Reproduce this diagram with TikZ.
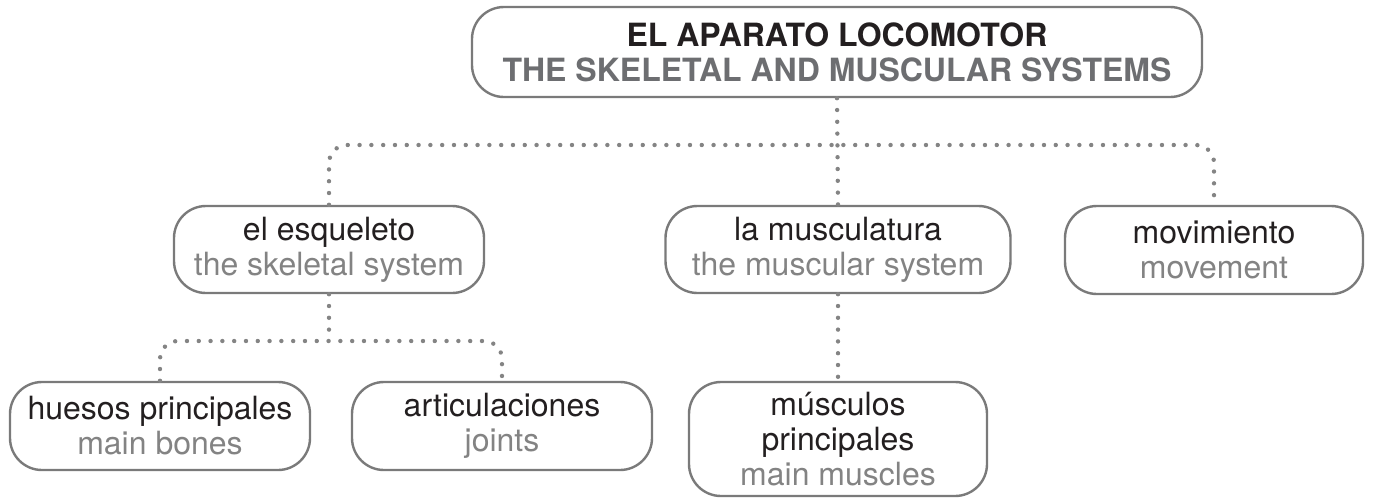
\documentclass[tikz,border=0pt]{standalone}
\usepackage{fontspec}
\setmainfont{TeX Gyre Heros}
\definecolor{boxline}{HTML}{7A7A7A}
\definecolor{dotcol}{HTML}{848484}
\definecolor{maintxt}{HTML}{231F20}
\definecolor{subtxt}{HTML}{838383}
\definecolor{titlesub}{HTML}{6D6E71}
\begin{document}
\begin{tikzpicture}[x=1pt,y=1pt,
  cbox/.style={draw=boxline, line width=2.4pt, rounded corners=32pt, align=center,
    inner sep=0pt, font=\fontsize{32}{35}\selectfont},
  dotline/.style={draw=dotcol, line width=4.4pt, line cap=round,
    dash pattern=on 0pt off 11.8pt, rounded corners=18pt}]
\useasboundingbox (0,0) rectangle (1375,-499);
\node[cbox, minimum width=730pt, minimum height=90pt] (top) at (837,-52)
  {\textbf{\textcolor{maintxt}{EL APARATO LOCOMOTOR}}\\\textbf{\textcolor{titlesub}{THE SKELETAL AND MUSCULAR SYSTEMS}}};
\node[cbox, minimum width=310pt, minimum height=87pt] (esq) at (329,-249.5)
  {\textcolor{maintxt}{el esqueleto}\\\textcolor{subtxt}{the skeletal system}};
\node[cbox, minimum width=345pt, minimum height=87pt] (mus) at (838,-249.5)
  {\textcolor{maintxt}{la musculatura}\\\textcolor{subtxt}{the muscular system}};
\node[cbox, minimum width=298pt, minimum height=88pt] (mov) at (1214,-250)
  {\textcolor{maintxt}{movimiento}\\\textcolor{subtxt}{movement}};
\node[cbox, minimum width=300pt, minimum height=88pt] (hue) at (160,-426)
  {\textcolor{maintxt}{huesos principales}\\\textcolor{subtxt}{main bones}};
\node[cbox, minimum width=300pt, minimum height=88pt] (art) at (502,-426)
  {\textcolor{maintxt}{articulaciones}\\\textcolor{subtxt}{joints}};
\node[cbox, minimum width=298pt, minimum height=114pt] (mp) at (838,-439)
  {\textcolor{maintxt}{músculos}\\\textcolor{maintxt}{principales}\\\textcolor{subtxt}{main muscles}};
\coordinate (bar1) at (0,-145);
\coordinate (bar2) at (0,-341);
\path[dotline] (top.south) -- (mus.north);
\path[dotline] (esq.north) -- (esq.north |- bar1) -- (mov.north |- bar1) -- (mov.north);
\path[dotline] (mus.south) -- (mp.north);
\path[dotline] (esq.south) -- (esq.south |- bar2);
\path[dotline] (hue.north) -- (hue.north |- bar2) -- (art.north |- bar2) -- (art.north);
\end{tikzpicture}
\end{document}
